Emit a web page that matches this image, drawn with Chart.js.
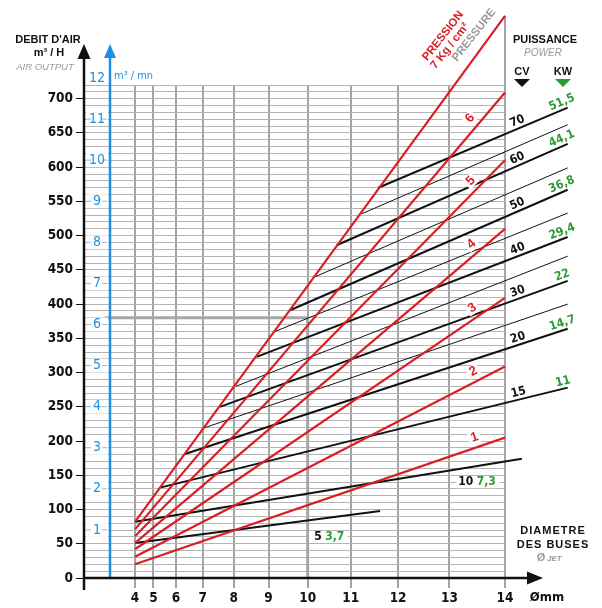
<!DOCTYPE html>
<html><head><meta charset="utf-8">
<style>html,body{margin:0;padding:0;background:#fff;}canvas{display:block;}</style>
<script src="https://cdn.jsdelivr.net/npm/chart.js@4.4.1/dist/chart.umd.min.js"></script>
</head><body>
<canvas id="c" width="602" height="608"></canvas>
<script>
// ---------- DATA ----------
const diameters = [4, 5, 6, 7, 8, 9, 10, 11, 12, 13, 14];            // mm (x ticks)
const flowLabels = [0, 50, 100, 150, 200, 250, 300, 350, 400, 450, 500, 550, 600, 650, 700]; // m3/h
const m3mnLabels = [1, 2, 3, 4, 5, 6, 7, 8, 9, 10, 11, 12];          // m3/mn
const pressures = [1, 2, 3, 4, 5, 6, 7];                               // kg/cm2
const pressureFlowAt4 = [20, 31, 42, 51, 61, 71, 82];                 // m3/h at 4 mm
const pressureFlowAt14 = [205, 309, 409, 510, 610, 709, 821];         // m3/h at 14 mm
const powerCV = [5, 10, 15, 20, 25, 30, 35, 40, 45, 50, 55, 60, 65, 70];
const powerKW = ['3,7', '7,3', '11', '14,7', '', '22', '', '29,4', '', '36,8', '', '44,1', '', '51,5'];
const powerStartDiam = [4, 4, 5.31, 6.35, 6.96, 7.57, 8.07, 8.67, 9.17, 9.56, 10.18, 10.68, 11.24, 11.59];
const powerStartFlow = [51, 82, 132, 181, 218, 250, 280, 323, 360, 391, 440, 486, 532, 570];
const powerEndDiam = [11.63, 14.29, 15.05, 15.05, 15.05, 15.05, 15.05, 15.05, 15.05, 15.05, 15.05, 15.05, 15.05, 15.05];
const powerEndFlow = [98, 174, 278, 364, 400, 434, 470, 498, 533, 567, 599, 634, 662, 687];
const guideDiam = 10, guideFlow = 380;

// ---------- STYLE ----------
const RED = '#d91e25', GREEN = '#2d9b35', BLUE = '#1e8fe1', BLACK = '#111';
const SANS = '"Liberation Sans", Arial, Helvetica, sans-serif';
const NARROW = '"Liberation Sans Narrow", "Arial Narrow", "DejaVu Sans Condensed", sans-serif';
const area = d => d * d;   // the diameter axis is drawn proportional to nozzle area

const datasets = [];
pressures.forEach((p, i) => {
  datasets.push({
    label: p + ' kg/cm²',
    data: [{x: area(4), y: pressureFlowAt4[i]}, {x: area(14), y: pressureFlowAt14[i]}],
    borderColor: RED, borderWidth: 2.2, pointRadius: 0, clip: false, order: 0
  });
});
powerCV.forEach((cv, i) => {
  datasets.push({
    label: cv + ' CV',
    data: [{x: area(powerStartDiam[i]), y: powerStartFlow[i]}, {x: area(powerEndDiam[i]), y: powerEndFlow[i]}],
    borderColor: BLACK, borderWidth: powerKW[i] ? 2 : 1, pointRadius: 0, clip: false, order: 1
  });
});

function seg(ctx, pts) {
  ctx.beginPath(); ctx.moveTo(pts[0][0], pts[0][1]);
  for (let k = 1; k < pts.length; k++) ctx.lineTo(pts[k][0], pts[k][1]);
  ctx.stroke();
}
function tri(ctx, pts, color) {
  ctx.fillStyle = color; ctx.beginPath(); ctx.moveTo(pts[0][0], pts[0][1]);
  ctx.lineTo(pts[1][0], pts[1][1]); ctx.lineTo(pts[2][0], pts[2][1]); ctx.closePath(); ctx.fill();
}
function text(ctx, s, x, y, font, color, align) {
  ctx.font = font; ctx.fillStyle = color; ctx.textAlign = align || 'center'; ctx.textBaseline = 'middle';
  ctx.fillText(s, x, y);
}

const annot = {
  id: 'annot',
  beforeDatasetsDraw(chart) {
    const {ctx, chartArea: a, scales: {x: X, y: Y}} = chart;
    ctx.save();
    // 14 mm grid line continues up to the 7 kg line
    const x14 = X.getPixelForValue(area(14));
    ctx.strokeStyle = '#a4a4a4'; ctx.lineWidth = 2;
    seg(ctx, [[x14, a.top], [x14, Y.getPixelForValue(pressureFlowAt14[6])]]);
    // guide (example reading)
    const gx = X.getPixelForValue(area(guideDiam)), gy = Y.getPixelForValue(guideFlow);
    ctx.strokeStyle = '#a6a6a6'; ctx.lineWidth = 3;
    seg(ctx, [[a.left + 21, gy], [gx, gy], [gx, a.bottom]]);
    // blue m3/mn axis
    const bx = a.left + 26;
    ctx.strokeStyle = BLUE; ctx.lineWidth = 2.5;
    seg(ctx, [[bx, a.bottom], [bx, a.top - 28]]);
    tri(ctx, [[bx, a.top - 41], [bx - 6, a.top - 27], [bx + 6, a.top - 27]], BLUE);
    m3mnLabels.forEach(n => {
      const yy = Y.getPixelForValue(n * 60) - 7;
      if (n < 12) {
        ctx.fillStyle = '#fff'; ctx.fillRect(a.left + 2, yy - 7, 22, 14);
        ctx.strokeStyle = '#9fb6cc'; ctx.lineWidth = 1;
        seg(ctx, [[a.left + 2, yy], [a.left + 7, yy]]);
        seg(ctx, [[a.left + 18, yy], [a.left + 23, yy]]);
      }
      text(ctx, String(n), a.left + 13, yy, `14px ${NARROW}`, BLUE);
    });
    text(ctx, 'm³ / mn', bx + 4, Y.getPixelForValue(720) - 9, `11px ${NARROW}`, BLUE, 'left');
    ctx.restore();
  },
  afterDatasetsDraw(chart) {
    const {ctx, chartArea: a, scales: {x: X, y: Y}} = chart;
    ctx.save();
    const P = (d, v) => ({x: X.getPixelForValue(area(d)), y: Y.getPixelForValue(v)});
    function along(d0, v0, d1, v1, dAt) {
      const p0 = P(d0, v0), p1 = P(d1, v1);
      const t = (area(dAt) - area(d0)) / (area(d1) - area(d0));
      return {x: p0.x + t * (p1.x - p0.x), y: p0.y + t * (p1.y - p0.y), ang: Math.atan2(p1.y - p0.y, p1.x - p0.x)};
    }
    function rotText(s, p, off, font, color, box) {
      ctx.save(); ctx.translate(p.x, p.y); ctx.rotate(p.ang);
      ctx.font = font; ctx.textAlign = 'center'; ctx.textBaseline = 'middle';
      if (box) { const w = ctx.measureText(s).width + 5; ctx.fillStyle = '#fff'; ctx.fillRect(-w / 2, off - 6, w, 12); }
      ctx.fillStyle = color; ctx.fillText(s, 0, off);
      ctx.restore();
    }
    // pressure numbers
    pressures.forEach((p, i) => {
      if (i === 6) return;
      rotText(String(p), along(4, pressureFlowAt4[i], 14, pressureFlowAt14[i], 13.52), -10, `bold 13px ${SANS}`, RED, true);
    });
    // power labels
    powerCV.forEach((cv, i) => {
      if (!powerKW[i] || i < 2) return;
      const args = [powerStartDiam[i], powerStartFlow[i], powerEndDiam[i], powerEndFlow[i]];
      rotText(String(cv), along(...args, 14.26), -7, `bold 12px ${NARROW}`, BLACK, false);
      rotText(powerKW[i], along(...args, 15.0), -7, `bold 12px ${NARROW}`, GREEN, false);
    });
    // horizontal labels for the two small powers
    [[0, 10.25, 10.64, 60], [1, 13.3, 13.67, 140]].forEach(([i, dCv, dKw, v]) => {
      const pc = P(dCv, v), pk = P(dKw, v);
      ctx.fillStyle = '#fff'; ctx.fillRect(pc.x - 9, pc.y - 6, pk.x - pc.x + 22, 12);
      text(ctx, String(powerCV[i]), pc.x, pc.y, `bold 12px ${NARROW}`, BLACK);
      text(ctx, powerKW[i], pk.x, pk.y, `bold 12px ${NARROW}`, GREEN);
    });
    // main black axes with arrows
    ctx.strokeStyle = BLACK; ctx.lineWidth = 2.5;
    seg(ctx, [[a.left, a.bottom + 12], [a.left, a.top - 28]]);
    tri(ctx, [[a.left, a.top - 41], [a.left - 6.5, a.top - 26], [a.left + 6.5, a.top - 26]], BLACK);
    seg(ctx, [[a.left - 1, a.bottom], [a.right + 24, a.bottom]]);
    tri(ctx, [[a.right + 38, a.bottom], [a.right + 22, a.bottom - 6.5], [a.right + 22, a.bottom + 6.5]], BLACK);
    ctx.restore();
  },
  afterDraw(chart) {
    const {ctx} = chart;
    ctx.save();
    // left heading
    text(ctx, "DEBIT D'AIR", 48, 40, `bold 11px ${SANS}`, BLACK);
    text(ctx, 'm³ / H', 49, 53, `bold 11px ${SANS}`, BLACK);
    text(ctx, 'AIR OUTPUT', 45, 67, `italic 9.5px ${SANS}`, '#9a9a9a');
    // right heading
    text(ctx, 'PUISSANCE', 545, 40, `bold 11px ${SANS}`, BLACK);
    text(ctx, 'POWER', 543, 53, `italic 10px ${SANS}`, '#9a9a9a');
    text(ctx, 'CV', 522, 72, `bold 11px ${SANS}`, BLACK);
    text(ctx, 'KW', 563, 72, `bold 11px ${SANS}`, BLACK);
    tri(ctx, [[514, 79], [530, 79], [522, 87]], BLACK);
    tri(ctx, [[555, 79], [571, 79], [563, 87]], GREEN);
    // pressure heading (rotated)
    const rot = (s, x, y, font, color) => {
      ctx.save(); ctx.translate(x, y); ctx.rotate(-52 * Math.PI / 180);
      text(ctx, s, 0, 0, font, color); ctx.restore();
    };
    rot('PRESSION', 443, 36, `bold 11.5px ${SANS}`, RED);
    rot('7 Kg / cm²', 450, 46, `bold 11.5px ${SANS}`, RED);
    rot('PRESSURE', 474, 35, `bold 11.5px ${SANS}`, '#9a9a9a');
    // diameter heading
    ctx.letterSpacing = '1px';
    text(ctx, 'DIAMETRE', 553, 531, `bold 11px ${SANS}`, BLACK);
    text(ctx, 'DES BUSES', 553, 545, `bold 11px ${SANS}`, BLACK);
    ctx.letterSpacing = '0px';
    text(ctx, 'Ø', 541, 558, `bold 11px ${SANS}`, '#9a9a9a');
    text(ctx, 'JET', 547, 559, `italic bold 8px ${SANS}`, '#9a9a9a', 'left');
    text(ctx, 'Ømm', 547, 598, `bold 13px ${NARROW}`, BLACK);
    ctx.restore();
  }
};

new Chart(document.getElementById('c'), {
  type: 'line',
  data: {datasets},
  options: {
    responsive: false, animation: false,
    layout: {padding: {top: 85, right: 97, left: 0, bottom: 0}},
    plugins: {legend: {display: false}, tooltip: {enabled: false}},
    scales: {
      x: {
        type: 'linear', min: -8.8, max: 196,
        afterBuildTicks: s => { s.ticks = diameters.map(d => ({value: area(d)})); },
        afterFit: s => { s.height = 30; },
        ticks: {callback: v => String(Math.round(Math.sqrt(v))), autoSkip: false, maxRotation: 0, padding: 2,
                color: BLACK, font: {family: NARROW, size: 13.5, weight: 'bold'}},
        grid: {color: '#a4a4a4', lineWidth: 2, tickLength: 10, tickColor: '#a4a4a4'},
        border: {display: false}
      },
      y: {
        type: 'linear', min: 0, max: 720,
        ticks: {stepSize: 10, maxTicksLimit: 200, autoSkip: false, padding: 3,
                callback: v => flowLabels.includes(v) ? String(v) : '',
                color: BLACK, font: {family: NARROW, size: 13.5, weight: 'bold'}},
        afterFit: s => { s.width = 84; },
        grid: {color: '#b4b4b4', lineWidth: 1, tickLength: 8,
               tickColor: c => (c.tick && flowLabels.includes(c.tick.value)) ? BLACK : 'rgba(0,0,0,0)'},
        border: {display: false}
      }
    }
  },
  plugins: [annot]
});
</script>
</body></html>
